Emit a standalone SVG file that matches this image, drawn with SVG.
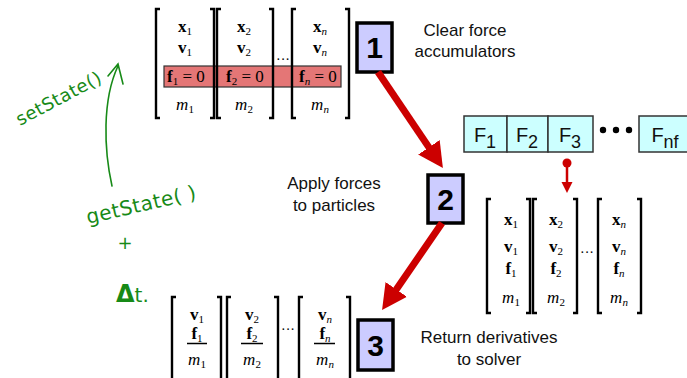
<svg xmlns="http://www.w3.org/2000/svg" width="687" height="378" viewBox="0 0 687 378">
<style>
.br{fill:none;stroke:#000;stroke-width:2.4}
.mt{font-family:"Liberation Serif",serif;font-size:17px;fill:#000;text-anchor:middle}
.b{font-weight:bold}
.i{font-style:italic}
.sub{font-size:11px}
.lbl{font-family:"Liberation Sans",Arial,sans-serif;font-size:17px;fill:#111;text-anchor:middle}
.step{fill:#ccccff;stroke:#000;stroke-width:3.5}
.num{font-family:"Liberation Sans",Arial,sans-serif;font-size:30px;font-weight:bold;text-anchor:middle;fill:#000}
.fb{fill:#ccffff;stroke:#333;stroke-width:1.5}
.ft{font-family:"Liberation Sans",Arial,sans-serif;font-size:20px;fill:#111;text-anchor:middle}
.arr{stroke:#cc0000;stroke-width:7;fill:none}
.hw{font-family:"DejaVu Sans",sans-serif;fill:#178a17}
.dots{font-family:"Liberation Serif",serif;font-size:14px;text-anchor:middle}
</style>
<defs>
<marker id="ah" markerUnits="userSpaceOnUse" markerWidth="26" markerHeight="26" refX="10" refY="13" orient="auto" viewBox="0 0 26 26">
<path d="M0,0 L25,13 L0,26 z" fill="#cc0000"/>
</marker>
</defs>

<g id="matrix-top">
<rect x="164" y="66" width="177" height="21" fill="#e47676" stroke="#333" stroke-width="1.2"/>
<path class="br" d="M160,9 H156 V118 H160 M210,9 H214 V118 H210 M221,9 H217 V118 H221 M269,9 H273 V118 H269 M296,9 H292 V118 H296 M345,9 H349 V118 H345"/>
<text class="mt" x="185" y="32"><tspan class="b">x</tspan><tspan class="sub" dy="3">1</tspan></text>
<text class="mt" x="185" y="53"><tspan class="b">v</tspan><tspan class="sub" dy="3">1</tspan></text>
<text class="mt" x="186" y="82"><tspan class="b">f</tspan><tspan class="sub" dy="3">1</tspan><tspan dy="-3"> = 0</tspan></text>
<text class="mt" x="185" y="110"><tspan class="i">m</tspan><tspan class="sub" dy="3">1</tspan></text>
<text class="mt" x="244" y="32"><tspan class="b">x</tspan><tspan class="sub" dy="3">2</tspan></text>
<text class="mt" x="244" y="53"><tspan class="b">v</tspan><tspan class="sub" dy="3">2</tspan></text>
<text class="mt" x="245" y="82"><tspan class="b">f</tspan><tspan class="sub" dy="3">2</tspan><tspan dy="-3"> = 0</tspan></text>
<text class="mt" x="244" y="110"><tspan class="i">m</tspan><tspan class="sub" dy="3">2</tspan></text>
<text class="mt" x="320" y="32"><tspan class="b">x</tspan><tspan class="sub i" dy="3">n</tspan></text>
<text class="mt" x="320" y="53"><tspan class="b">v</tspan><tspan class="sub i" dy="3">n</tspan></text>
<text class="mt" x="318" y="82"><tspan class="b">f</tspan><tspan class="sub i" dy="3">n</tspan><tspan dy="-3"> = 0</tspan></text>
<text class="mt" x="320" y="110"><tspan class="i">m</tspan><tspan class="sub i" dy="3">n</tspan></text>
<text class="dots" x="283" y="64">···</text>
</g>

<g id="step1">
<rect class="step" x="357" y="23" width="35" height="49"/>
<text class="num" x="374.5" y="58">1</text>
<text class="lbl" x="465" y="36">Clear force</text>
<text class="lbl" x="465" y="57">accumulators</text>
</g>

<g id="step2">
<rect class="step" x="428" y="175" width="35" height="48"/>
<text class="num" x="445.5" y="210">2</text>
<text class="lbl" x="334" y="189">Apply forces</text>
<text class="lbl" x="334" y="211">to particles</text>
</g>

<g id="step3">
<rect class="step" x="358" y="320" width="35" height="50"/>
<text class="num" x="375.5" y="356">3</text>
<text class="lbl" x="489" y="343">Return derivatives</text>
<text class="lbl" x="489" y="365">to solver</text>
</g>

<g id="forces">
<rect class="fb" x="464" y="116" width="43" height="36"/>
<rect class="fb" x="507" y="116" width="41" height="36"/>
<rect class="fb" x="548" y="116" width="45" height="36"/>
<rect class="fb" x="639" y="116" width="60" height="36"/>
<text class="ft" x="485" y="142">F<tspan font-size="18" dy="6">1</tspan></text>
<text class="ft" x="527" y="142">F<tspan font-size="18" dy="6">2</tspan></text>
<text class="ft" x="570" y="142">F<tspan font-size="18" dy="6">3</tspan></text>
<text class="ft" x="665" y="142">F<tspan font-size="18" dy="6">nf</tspan></text>
<circle cx="603" cy="130" r="3.2"/>
<circle cx="616" cy="130" r="3.2"/>
<circle cx="629" cy="130" r="3.2"/>
</g>

<g id="matrix-mid">
<path class="br" d="M491,199 H487 V313 H491 M526,199 H530 V313 H526 M537,199 H533 V313 H537 M573,199 H577 V313 H573 M602,199 H598 V313 H602 M637,199 H641 V313 H637"/>
<text class="mt" x="511" y="225"><tspan class="b">x</tspan><tspan class="sub" dy="3">1</tspan></text>
<text class="mt" x="511" y="252"><tspan class="b">v</tspan><tspan class="sub" dy="3">1</tspan></text>
<text class="mt" x="511" y="274"><tspan class="b">f</tspan><tspan class="sub" dy="3">1</tspan></text>
<text class="mt" x="511" y="303"><tspan class="i">m</tspan><tspan class="sub" dy="3">1</tspan></text>
<text class="mt" x="556" y="225"><tspan class="b">x</tspan><tspan class="sub" dy="3">2</tspan></text>
<text class="mt" x="556" y="252"><tspan class="b">v</tspan><tspan class="sub" dy="3">2</tspan></text>
<text class="mt" x="556" y="274"><tspan class="b">f</tspan><tspan class="sub" dy="3">2</tspan></text>
<text class="mt" x="556" y="303"><tspan class="i">m</tspan><tspan class="sub" dy="3">2</tspan></text>
<text class="mt" x="619" y="225"><tspan class="b">x</tspan><tspan class="sub i" dy="3">n</tspan></text>
<text class="mt" x="619" y="252"><tspan class="b">v</tspan><tspan class="sub i" dy="3">n</tspan></text>
<text class="mt" x="619" y="274"><tspan class="b">f</tspan><tspan class="sub i" dy="3">n</tspan></text>
<text class="mt" x="619" y="303"><tspan class="i">m</tspan><tspan class="sub i" dy="3">n</tspan></text>
<text class="dots" x="587" y="257">···</text>
</g>

<g id="matrix-bottom">
<path class="br" d="M176,297 H172 V382 M217,297 H221 V382 M231,297 H227 V382 M274,297 H278 V382 M303,297 H299 V382 M346,297 H350 V382"/>
<text class="mt" x="197" y="320"><tspan class="b">v</tspan><tspan class="sub" dy="3">1</tspan></text>
<text class="mt" x="197" y="339"><tspan class="b">f</tspan><tspan class="sub" dy="3">1</tspan></text>
<text class="mt" x="197" y="365"><tspan class="i">m</tspan><tspan class="sub" dy="3">1</tspan></text>
<text class="mt" x="252" y="320"><tspan class="b">v</tspan><tspan class="sub" dy="3">2</tspan></text>
<text class="mt" x="252" y="339"><tspan class="b">f</tspan><tspan class="sub" dy="3">2</tspan></text>
<text class="mt" x="252" y="365"><tspan class="i">m</tspan><tspan class="sub" dy="3">2</tspan></text>
<text class="mt" x="325" y="320"><tspan class="b">v</tspan><tspan class="sub i" dy="3">n</tspan></text>
<text class="mt" x="325" y="339"><tspan class="b">f</tspan><tspan class="sub i" dy="3">n</tspan></text>
<text class="mt" x="325" y="365"><tspan class="i">m</tspan><tspan class="sub i" dy="3">n</tspan></text>
<path d="M187,343.5 H207 M241,343.5 H263 M314,343.5 H335" stroke="#000" stroke-width="1.3"/>
<text class="dots" x="288" y="334">···</text>
</g>

<g id="connectors">
<line class="arr" x1="378" y1="72" x2="434.5" y2="155.6" marker-end="url(#ah)"/>
<line class="arr" x1="442" y1="223" x2="390.6" y2="297.7" marker-end="url(#ah)"/>
<circle cx="567" cy="163" r="4.5" fill="#cc0000"/>
<line x1="567" y1="163" x2="567" y2="184" stroke="#cc0000" stroke-width="2.5"/>
<polygon points="561.5,182 572.5,182 567,193" fill="#cc0000"/>
</g>

<g id="handwriting">
<text class="hw" font-size="18" transform="translate(20,126) rotate(-28)" textLength="94" lengthAdjust="spacing">setState()</text>
<path d="M112,186 C104,150 102,100 118,66 M108,76 L118,64 L123,84" fill="none" stroke="#178a17" stroke-width="1.6" stroke-linecap="round"/>
<text class="hw" font-size="20" transform="translate(88,224) rotate(-13)" textLength="112" lengthAdjust="spacing">getState( )</text>
<text class="hw" font-size="18" x="125" y="249" text-anchor="middle">+</text>
<text class="hw" font-size="24" x="116" y="302"><tspan font-weight="bold">Δ</tspan><tspan font-size="20">t.</tspan></text>
</g>
</svg>
